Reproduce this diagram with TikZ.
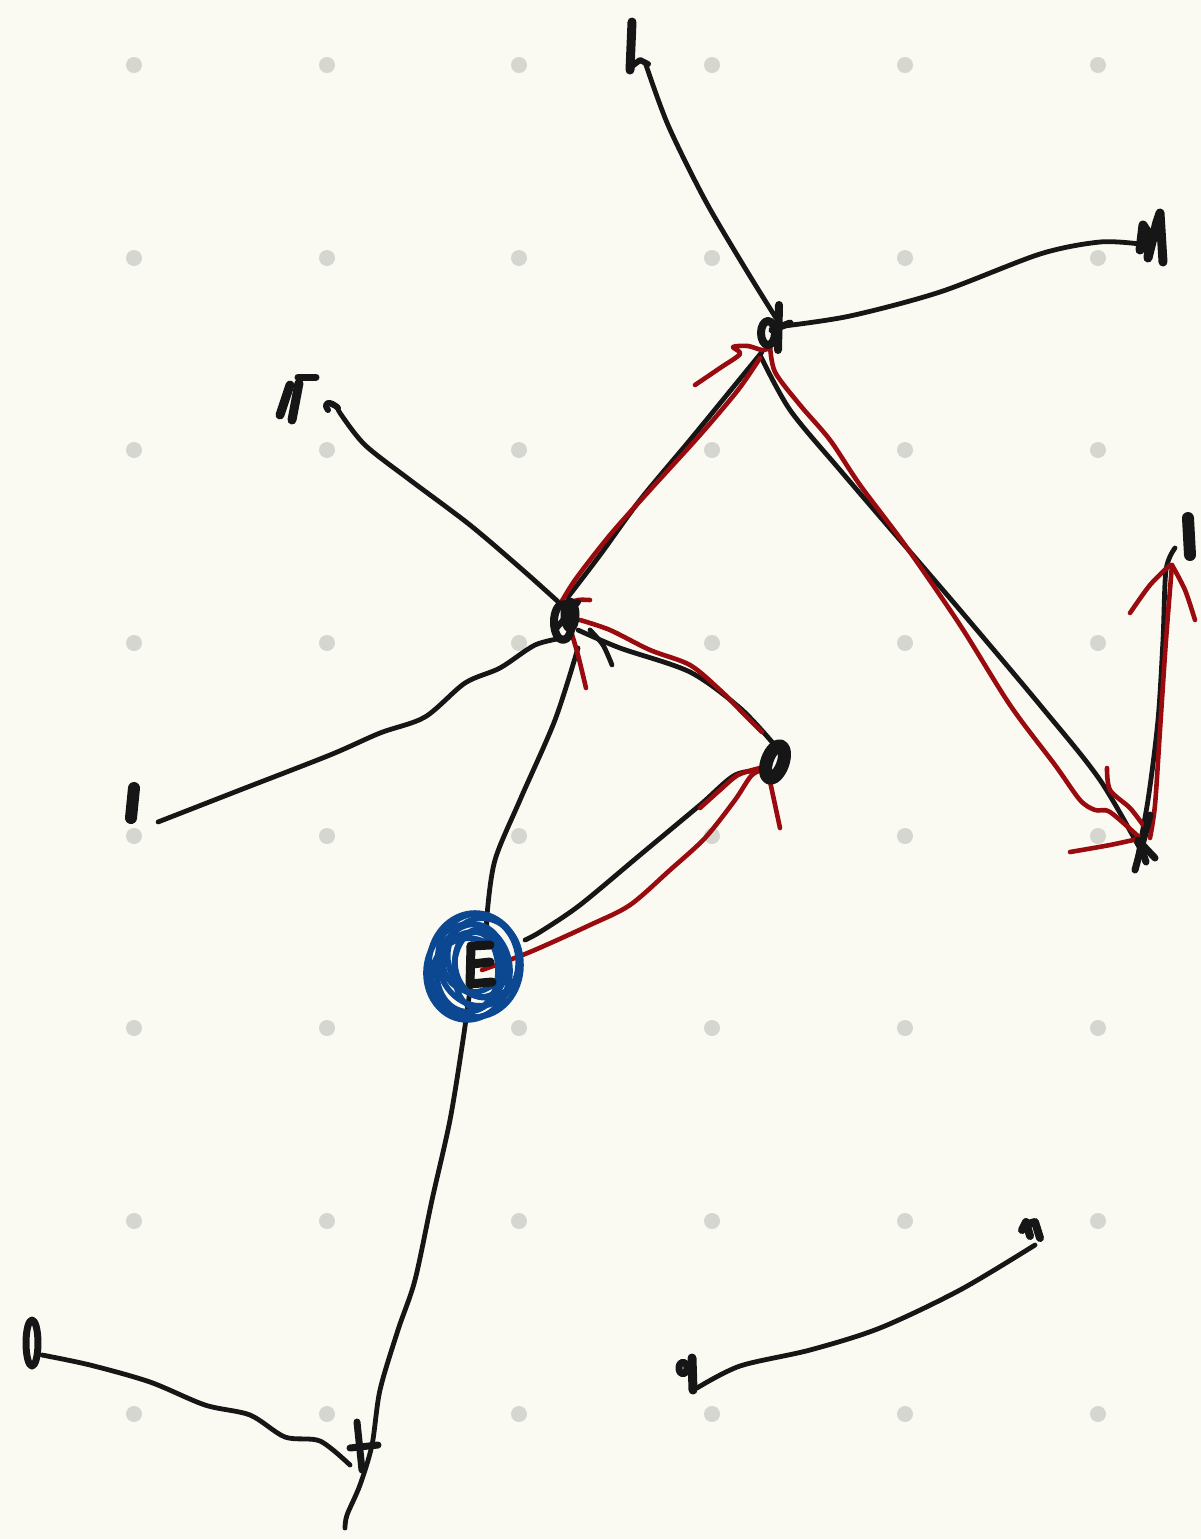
\documentclass[tikz,border=0pt]{standalone}
\definecolor{bg}{HTML}{FAFAF3}
\definecolor{dotc}{HTML}{D6D6D0}
\definecolor{ink}{HTML}{161616}
\definecolor{rd}{HTML}{9A0B10}
\definecolor{bl}{HTML}{0B4891}
\begin{document}
\begin{tikzpicture}[x=0.5pt,y=-0.5pt,line cap=round,line join=round,
  pen/.style={draw=ink,line width=2.4pt},
  glyph/.style={draw=ink,line width=4.5pt},
  redpen/.style={draw=rd,line width=2.3pt},
  bluepen/.style={draw=bl,line width=2.8pt}]
\fill[bg] (0,0) rectangle (1201,1539);
\useasboundingbox (0,0) rectangle (1201,1539);
\foreach \x in {134,327,519,712,905,1098}
  \foreach \y in {65,258,450,643,836,1028,1221,1414}
    \fill[dotc] (\x,\y) circle (8);
% named nodes
\coordinate (A) at (775,322);
\coordinate (B) at (565,622);
\coordinate (C) at (1140,845);
\coordinate (D) at (775,762);
\coordinate (E) at (478,962);
\coordinate (F) at (362,1445);
\coordinate (h) at (645,62);
\coordinate (M) at (1140,244);
\coordinate (G) at (332,405);
\coordinate (L) at (158,822);
\coordinate (R) at (1175,548);
\coordinate (Z) at (42,1355);
\coordinate (q) at (697,1388);
\coordinate (n) at (1035,1245);
% black edges
\draw[pen] plot[smooth] coordinates {(h) (668,125) (705,200) (745,268) (776,318)};
\draw[pen] plot[smooth] coordinates {(784,326) (850,316) (940,292) (1040,254) (1100,242) (M)};
\draw[pen] plot[smooth] coordinates {(762,352) (735,385) (690,440) (640,500) (600,555) (568,597)};
\draw[pen] plot[smooth] coordinates {(760,355) (790,410) (840,470) (900,540) (960,610) (1040,705) (1100,780) (1145,858)};
\draw[pen] plot[smooth] coordinates {(1135,870) (1148,800) (1158,720) (1163,640) (1166,570) (R)};
\draw[pen] plot[smooth] coordinates {(G) (338,407) (340,413) (365,445) (410,480) (470,525) (525,572) (565,608)};
\draw[pen] plot[smooth] coordinates {(L) (240,790) (330,755) (380,733) (425,717) (465,683) (500,668) (535,645) (563,638)};
\draw[pen] plot[smooth] coordinates {(578,630) (620,648) (690,672) (740,708) (772,742)};
\draw[pen] plot[smooth] coordinates {(590,630) (603,645) (612,665)};
\draw[pen] plot[smooth] coordinates {(578,648) (555,720) (520,800) (495,860) (487,915) (488,930) (495,935)};
\draw[pen] plot[smooth] coordinates {(525,940) (540,932) (580,905) (640,855) (700,805) (735,775) (765,770)};
\draw[pen] plot[smooth] coordinates {(472,975) (463,1040) (450,1120) (432,1200) (415,1280) (398,1330) (380,1390) (372,1445) (360,1485) (347,1515) (345,1528)};
\draw[pen] plot[smooth] coordinates {(Z) (90,1365) (150,1382) (205,1405) (250,1415) (285,1437) (320,1441) (350,1465)};
\draw[pen] plot[smooth] coordinates {(q) (740,1366) (810,1350) (880,1328) (960,1290) (n)};
% red path
\draw[redpen] plot[smooth] coordinates {(482,970) (530,952) (590,925) (630,905) (670,870) (705,838) (735,800) (752,775) (768,768)};
\draw[redpen] plot[smooth] coordinates {(700,808) (720,790) (738,775) (760,768)};
\draw[redpen] (768,772) -- (780,828);
\draw[redpen] plot[smooth] coordinates {(762,732) (740,710) (720,690) (690,665) (650,650) (610,630) (580,620)};
\draw[redpen] plot[smooth] coordinates {(566,604) (578,600) (590,600)};
\draw[redpen] plot[smooth] coordinates {(570,628) (578,655) (586,688)};
\draw[redpen] plot[smooth] coordinates {(558,608) (575,580) (610,535) (650,490) (700,435) (738,390) (760,358)};
\draw[redpen] plot[smooth] coordinates {(695,385) (720,368) (740,354) (733,347) (748,346) (762,350) (770,348)};
\draw[redpen] plot[smooth] coordinates {(770,345) (775,372) (800,405) (830,440) (860,485) (905,545) (960,625) (1010,705) (1055,765) (1080,800) (1095,810) (1110,812) (1140,838)};
\draw[redpen] plot[smooth] coordinates {(1070,852) (1110,845) (1142,838)};
\draw[redpen] plot[smooth] coordinates {(1107,768) (1110,790) (1130,808) (1143,825)};
\draw[redpen] plot[smooth] coordinates {(1150,838) (1155,805) (1160,730) (1166,640) (1172,565)};
\draw[redpen] plot[smooth] coordinates {(1130,613) (1150,585) (1170,565)};
\draw[redpen] plot[smooth] coordinates {(1172,565) (1185,590) (1195,620)};
% node marks
\draw[pen,line width=4pt] (779,305) -- (778,350);
\draw[pen,line width=4pt] (768,333) ellipse [x radius=7,y radius=12];
\draw[pen,line width=3.5pt] (772,330) -- (790,323);
\draw[pen,line width=4pt] (563,622) ellipse [x radius=9,y radius=18];
\draw[pen,line width=3.5pt] (570,615) ellipse [x radius=6,y radius=14];
\draw[pen,line width=3pt] (555,630) -- (578,602);
\draw[pen,line width=6.5pt,rotate around={-20:(D)}] (D) ellipse [x radius=8,y radius=17];
\draw[pen,line width=3.5pt] (1135,870) -- (1150,815);
\draw[pen,line width=3.5pt] (1138,840) -- (1155,858);
\draw[pen,line width=3.5pt] (1142,850) -- (1146,862);
\draw[pen,line width=3.5pt] (357,1422) -- (362,1470);
\draw[pen,line width=3.5pt] (350,1448) -- (378,1445);
% blue scribble node E
\foreach \cx/\cy/\rx/\ry/\a in {475/965/46/52/0, 478/960/40/46/10, 471/968/34/44/-10, 481/963/26/34/5, 468/972/42/48/-5, 484/958/36/40/15, 476/970/22/38/0, 473/962/30/30/0, 470/978/38/40/20}
  \draw[bluepen,rotate around={\a:(\cx,\cy)}] (\cx,\cy) ellipse [x radius=\rx,y radius=\ry];
\draw[pen,line width=4.5pt] (471,946) -- (470,984) -- (492,982);
\draw[pen,line width=4.5pt] (471,946) -- (490,945);
\draw[pen,line width=4.5pt] (472,964) -- (490,962);
% labels as drawn glyphs
\draw[glyph] (632,22) -- (630,70);
\draw[glyph,line width=3pt] (632,66) -- (640,60) -- (648,64);
\draw[glyph] (1140,250) -- (1143,225) -- (1150,236) -- (1148,258) -- (1157,222) -- (1160,213) -- (1163,262);
\draw[glyph] (290,385) -- (280,415);
\draw[glyph] (299,383) -- (292,420);
\draw[glyph,line width=3.5pt] (298,377) -- (316,377);
\draw[glyph,line width=3pt] (328,410) .. controls (322,402) and (330,400) .. (338,408);
\draw[glyph,line width=6pt] (134,788) -- (131,818);
\draw[glyph,line width=3.5pt] (32,1343) ellipse [x radius=6,y radius=23];
\draw[glyph,line width=3.5pt] (683,1368) ellipse [x radius=4,y radius=6];
\draw[glyph] (692,1358) -- (693,1390);
\draw[glyph,line width=4pt] (1022,1230) -- (1026,1222) -- (1030,1236);
\draw[glyph,line width=4pt] (1028,1224) -- (1035,1222) -- (1040,1238);
\draw[glyph,line width=6pt] (1188,518) -- (1190,555);
\end{tikzpicture}
\end{document}
